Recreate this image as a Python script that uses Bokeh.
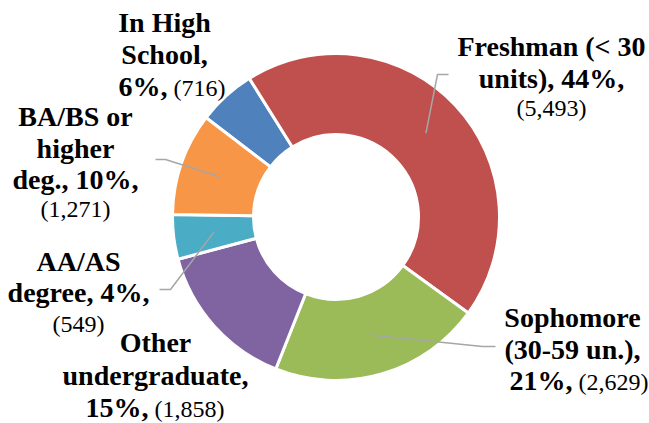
import math
from bokeh.plotting import figure
from bokeh.models import Range1d, ColumnDataSource
from bokeh.core.properties import value
from bokeh.embed import file_html
from bokeh.resources import INLINE

# ---- data ----
categories = ["In High School", "Freshman (< 30 units)", "Sophomore (30-59 un.)",
              "Other undergraduate", "AA/AS degree", "BA/BS or higher deg."]
counts = [716, 5493, 2629, 1858, 549, 1271]
colors = ["#4F81BD", "#C0504D", "#9BBB59", "#8064A2", "#4BACC6", "#F79646"]

# label text lines per category: (bold part, normal part); {p}=percent, {n}=count
label_lines = [
    [("In High", ""), ("School,", ""), ("{p}%,", "({n})")],
    [("Freshman (< 30", ""), ("units), {p}%,", ""), ("", "({n})")],
    [("Sophomore", ""), ("(30-59 un.),", ""), ("{p}%,", "({n})")],
    [("Other", ""), ("undergraduate,", ""), ("{p}%,", "({n})")],
    [("AA/AS", ""), ("degree, {p}%,", ""), ("", "({n})")],
    [("BA/BS or", ""), ("higher", ""), ("deg., {p}%,", ""), ("", "({n})")],
]

# ---- layout (image pixel coordinates, y downward) ----
W, H = 649, 423


def Y(ypix):
    return H - ypix


CX, CY = 335.5, 216.5
R_OUT, R_IN = 162.0, 84.0
BORDER = 3
START_DEG = -52.6  # clockwise from 12 o'clock
BOLD_PX, NORM_PX = 28, 24
DESCENT = 0.216  # font descent (em), to place text baselines via "bottom"

label_layout = [
    dict(cx=164, split=167, base=[31, 63, 95], leader=None),
    dict(cx=551, split=None, base=[55, 87, 115], leader=[(437, 74), (448, 74)]),
    dict(cx=572, split=572, base=[326, 358, 389], leader=[(482, 346), (495, 346)]),
    dict(cx=155, split=148, base=[351, 384, 416], leader=None),
    dict(cx=78, split=None, base=[270, 301, 331], leader=[(170, 289), (159, 289)]),
    dict(cx=75, split=None, base=[125, 157, 188, 216], leader=[(165, 159), (155, 159)]),
]

FONT = "Liberation Serif"

p = figure(width=W, height=H,
           x_range=Range1d(0, W), y_range=Range1d(0, H),
           x_axis_type=None, y_axis_type=None,
           output_backend="svg", toolbar_location=None, min_border=0)
p.grid.visible = False
p.outline_line_color = None
p.background_fill_color = "white"
p.border_fill_color = "white"

total = sum(counts)
starts, ends, mids = [], [], []
acc = START_DEG
for c in counts:
    sweep = 360.0 * c / total
    starts.append(acc)
    ends.append(acc + sweep)
    mids.append(acc + sweep / 2)
    acc += sweep

src = ColumnDataSource(dict(
    start=[math.radians(90 - s) for s in starts],
    end=[math.radians(90 - e) for e in ends],
    color=colors,
))
p.annular_wedge(x=CX, y=Y(CY), inner_radius=R_IN - BORDER / 2, outer_radius=R_OUT + BORDER / 2,
                start_angle="start", end_angle="end", direction="clock",
                fill_color="color", line_color="white", line_width=BORDER, source=src)

# leader lines
lx, ly = [], []
r_mid = (R_OUT + R_IN) / 2
for i, lay in enumerate(label_layout):
    if lay["leader"] is None:
        continue
    th = math.radians(mids[i])
    sx = CX + r_mid * math.sin(th)
    sy = CY - r_mid * math.cos(th)
    xs = [sx] + [pt[0] for pt in lay["leader"]]
    ys = [Y(sy)] + [Y(pt[1]) for pt in lay["leader"]]
    lx.append(xs)
    ly.append(ys)
p.multi_line(xs=lx, ys=ly, line_color="#A6A6A6", line_width=1.5)

# labels, grouped by (weight, alignment)
groups = {}


def put(weight, align, x, base, t):
    size = BOLD_PX if weight == "bold" else NORM_PX
    g = groups.setdefault((weight, align), dict(x=[], y=[], text=[]))
    g["x"].append(x); g["y"].append(Y(base + DESCENT * size)); g["text"].append(t)


for i, (lines, lay) in enumerate(zip(label_lines, label_layout)):
    pct = round(100 * counts[i] / total)
    num = f"{counts[i]:,}"
    for (b, n), base in zip(lines, lay["base"]):
        b = b.format(p=pct, n=num)
        n = n.format(p=pct, n=num)
        if b and n:
            put("bold", "right", lay["split"], base, b)
            put("normal", "left", lay["split"] + 6, base, n)
        elif b:
            put("bold", "center", lay["cx"], base, b)
        else:
            put("normal", "center", lay["cx"], base, n)

for (weight, align), g in groups.items():
    p.text(x="x", y="y", text="text", source=ColumnDataSource(g),
           text_align=align, text_baseline="bottom",
           text_font=value(FONT), text_font_style=weight,
           text_font_size=f"{BOLD_PX if weight == 'bold' else NORM_PX}px",
           text_color="black")

open("out.html", "w").write(file_html(p, INLINE))
